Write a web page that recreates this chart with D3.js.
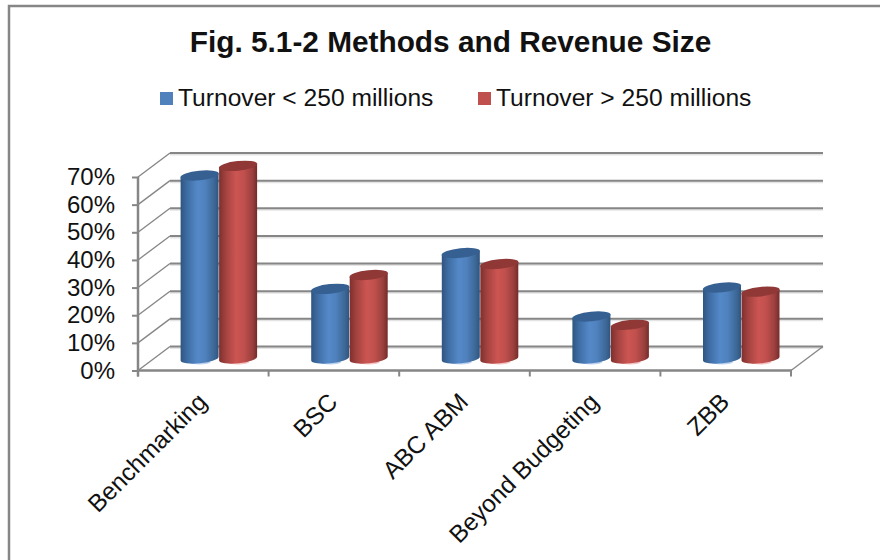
<!DOCTYPE html>
<html><head><meta charset="utf-8">
<script src="https://cdnjs.cloudflare.com/ajax/libs/d3/7.8.5/d3.min.js"></script>
<style>html,body{margin:0;padding:0;background:#fff}svg{display:block}text{font-family:"Liberation Sans",Arial,sans-serif;fill:#111}</style>
</head><body><svg id="c" width="880" height="560"></svg>
<script>
const categories = ["Benchmarking","BSC","ABC ABM","Beyond Budgeting","ZBB"];
const seriesNames = ["Turnover < 250 millions","Turnover > 250 millions"];
const lowTurnover = [66,25,38,15,25.5];
const highTurnover = [69.5,30,34,12,24];
const yTicks = [0,10,20,30,40,50,60,70];
const titleText = "Fig. 5.1-2 Methods and Revenue Size";

const svg = d3.select("#c");
const defs = svg.append("defs");
const palettes = [
  {id:"g0", base:"#4f81bd", top:"#376092", stops:["#2f5580","#3f6ea5","#5489c8","#4f81bd","#3d6897","#2f5580"]},
  {id:"g1", base:"#c0504d", top:"#8f3836", stops:["#7f2f2d","#a34340","#cc5552","#c0504d","#9a3f3d","#742b29"]}
];
palettes.forEach(p=>{
  const g=defs.append("linearGradient").attr("id",p.id).attr("x1",0).attr("x2",1).attr("y1",0).attr("y2",0);
  p.stops.forEach((s,i)=>g.append("stop").attr("offset",[0,.18,.45,.65,.88,1][i]).attr("stop-color",s));
});
const gray="#868686";
svg.append("path").attr("d","M9 560V6H880").attr("fill","none").attr("stroke",gray).attr("stroke-width",2.5);

const dx=32, dy=-24;
const x=d3.scaleBand().domain(categories).range([138,791]);
const y=d3.scaleLinear().domain([0,70]).range([370.5,177]);
const barLift=12, barShift=15.3;

const grid=svg.append("g");
yTicks.forEach(t=>{
  grid.append("line").attr("x1",x.range()[0]+dx).attr("x2",x.range()[1]+dx).attr("y1",y(t)+dy+1.5).attr("y2",y(t)+dy+1.5).attr("stroke","#e4e4e4").attr("stroke-width",2);
  grid.append("line").attr("x1",x.range()[0]+dx).attr("x2",x.range()[1]+dx).attr("y1",y(t)+dy).attr("y2",y(t)+dy).attr("stroke",gray).attr("stroke-width",2);
  grid.append("line").attr("x1",x.range()[0]).attr("x2",x.range()[0]+dx).attr("y1",y(t)).attr("y2",y(t)+dy).attr("stroke",gray).attr("stroke-width",1.3);
});
grid.append("line").attr("x1",x.range()[1]).attr("x2",x.range()[1]+dx).attr("y1",y(0)).attr("y2",y(0)+dy).attr("stroke",gray).attr("stroke-width",1.3);

const yAxis=svg.append("g").attr("transform","translate(138,0)")
  .call(d3.axisLeft(y).tickValues(yTicks).tickSize(6).tickPadding(17).tickFormat(d=>d+"%"));
const xAxis=svg.append("g").attr("transform",`translate(0,${y(0)})`)
  .call(d3.axisBottom(x).tickSize(0).tickFormat(d=>d));
xAxis.select(".domain").remove();
xAxis.selectAll(".tick line").remove();
svg.append("line").attr("x1",137).attr("x2",792).attr("y1",y(0)).attr("y2",y(0)).attr("stroke",gray).attr("stroke-width",2.5);
svg.append("line").attr("x1",138).attr("x2",138).attr("y1",y(70)).attr("y2",y(0)+6).attr("stroke",gray).attr("stroke-width",2.5);
yAxis.select(".domain").remove();
yAxis.selectAll(".tick line").attr("stroke",gray).attr("stroke-width",2);
yAxis.selectAll("text").attr("font-size",24).attr("fill","#111").style("font-family",'"Liberation Sans",Arial,sans-serif');
d3.range(categories.length+1).forEach(i=>{
  const px=x.range()[0]+i*x.step();
  svg.append("line").attr("x1",px).attr("x2",px).attr("y1",y(0)).attr("y2",y(0)+6).attr("stroke",gray).attr("stroke-width",2);
});
xAxis.selectAll(".tick text")
  .attr("font-size",24.4).attr("fill","#111").attr("text-anchor","end").attr("dy",0).attr("y",0)
  .style("font-family",'"Liberation Sans",Arial,sans-serif')
  .attr("transform","translate(5,33) rotate(-45)");

const barW=38, rx=barW/2, ry=4.8, tilt=-6;
[lowTurnover,highTurnover].forEach((vals,s)=>{
  const p=palettes[s];
  vals.forEach((v,i)=>{
    const cx=x(categories[i])+x.bandwidth()/2+barShift+(s===0?-barW/2:barW/2+.5);
    const yb=y(0)-barLift, yt=y(v)-barLift-0.5;
    const g=svg.append("g");
    g.append("ellipse").attr("cx",cx).attr("cy",yb+3.5).attr("rx",rx-8).attr("ry",2.5).attr("fill",s===0?"#bcd2ee":"#f2c4c3");
    const slope=Math.tan(tilt*Math.PI/180)*rx;
    g.append("path")
      .attr("d",`M${cx-rx} ${yt-slope}L${cx-rx} ${yb-slope}A${rx} ${ry} ${tilt} 0 0 ${cx+rx} ${yb+slope}L${cx+rx} ${yt+slope}Z`)
      .attr("fill",`url(#${p.id})`);
    g.append("ellipse").attr("cx",cx).attr("cy",yt).attr("rx",rx+.3).attr("ry",ry)
      .attr("transform",`rotate(${tilt} ${cx} ${yt})`).attr("fill",p.top);
  });
});

svg.append("text").attr("x",450.5).attr("y",52).attr("text-anchor","middle").attr("font-size",29.8).attr("font-weight","bold").attr("fill","#000").text(titleText);
const legendX=[160,478];
seriesNames.forEach((n,i)=>{
  svg.append("rect").attr("x",legendX[i]).attr("y",92).attr("width",13).attr("height",13).attr("fill",palettes[i].base);
  svg.append("text").attr("x",legendX[i]+18).attr("y",106).attr("font-size",24.6).attr("fill","#111").text(n);
});
</script></body></html>
